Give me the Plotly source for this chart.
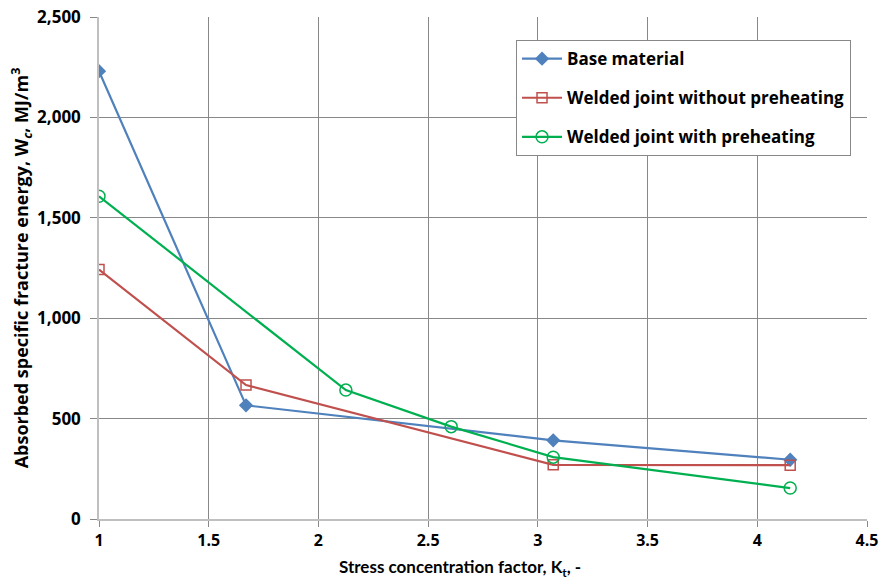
import plotly.graph_objects as go

# stress concentration factor Kt
kt_base = [1.0, 1.67, 3.07, 4.15]
kt_no_preheat = [1.0, 1.67, 3.07, 4.15]
kt_preheat = [1.0, 2.125, 2.605, 3.07, 4.15]

# absorbed specific fracture energy Wc, MJ/m3
wc_base = [2230, 566, 392, 295]
wc_no_preheat = [1242, 667, 270, 268]
wc_preheat = [1607, 642, 460, 308, 154]

x_title = "<b>Stress concentration factor, K<sub>t</sub>, -</b>"
y_title = "Absorbed specific fracture energy, W<sub><i>c</i></sub>, MJ/m<sup>3</sup>"

FONT = "Open Sans, Calibri, Arial, sans-serif"
NARROW = "Lato, Arial, sans-serif"

fig = go.Figure()
fig.add_trace(go.Scatter(
    x=kt_base, y=wc_base, mode="lines+markers", name="Base material",
    legendgroup="a",
    line={"color": "#4F81BD", "width": 2.2},
    marker={"symbol": "diamond", "size": 11, "color": "#4F81BD"},
))
fig.add_trace(go.Scatter(
    x=kt_no_preheat, y=wc_no_preheat, mode="lines+markers",
    name="Welded joint without preheating", legendgroup="b",
    line={"color": "#C0504D", "width": 2.2},
    marker={"symbol": "square-open", "size": 10, "color": "#C0504D", "line": {"width": 1.5}},
))
fig.add_trace(go.Scatter(
    x=kt_preheat, y=wc_preheat, mode="lines+markers",
    name="Welded joint with preheating", legendgroup="c",
    line={"color": "#00B050", "width": 2.2},
    marker={"symbol": "circle-open", "size": 12, "color": "#00B050", "line": {"width": 1.5}},
))

fig.update_layout(
    width=885, height=582,
    plot_bgcolor="white", paper_bgcolor="white",
    margin={"l": 99, "r": 18, "t": 17, "b": 63},
    font={"family": FONT, "size": 16, "color": "black"},
    showlegend=True,
    legend={
        "x": 0.543, "y": 0.954, "xanchor": "left", "yanchor": "top",
        "bordercolor": "#888888", "borderwidth": 1, "bgcolor": "white",
        "font": {"family": FONT, "size": 17, "color": "black", "weight": "bold"},
        "tracegroupgap": 14, "itemwidth": 40,
    },
)
# x title sits a little left of the plot centre in the original, so it is an annotation
fig.add_annotation(
    text=x_title, xref="paper", yref="paper", x=0.47, y=-0.098,
    xanchor="center", yanchor="middle", showarrow=False,
    font={"family": NARROW, "size": 17, "color": "black"},
)
fig.update_xaxes(
    range=[1, 4.5], dtick=0.5, tick0=1, automargin=False,
    showgrid=True, gridcolor="#888888", gridwidth=1,
    showline=True, linecolor="#BFBFBF", linewidth=1.5,
    ticks="outside", ticklen=6, tickcolor="#888888",
    zeroline=False, ticklabeloverflow="allow",
    tickfont={"family": FONT, "size": 16, "weight": "bold"},
)
fig.update_yaxes(
    range=[0, 2500], dtick=500, tickformat=",", automargin=False,
    showgrid=True, gridcolor="#888888", gridwidth=1,
    showline=True, linecolor="#BFBFBF", linewidth=1.5,
    ticks="outside", ticklen=7, tickcolor="#888888",
    zeroline=False, ticklabeloverflow="allow", ticklabelstandoff=6,
    tickfont={"family": FONT, "size": 17, "weight": "bold"},
    title={"text": y_title, "font": {"family": FONT, "size": 18, "weight": "bold"}, "standoff": 4},
)

# drop the default page margin so the figure sits flush in the window
fig.write_html("out.html", config={"displayModeBar": False},
               post_script="document.body.style.margin='0';")
